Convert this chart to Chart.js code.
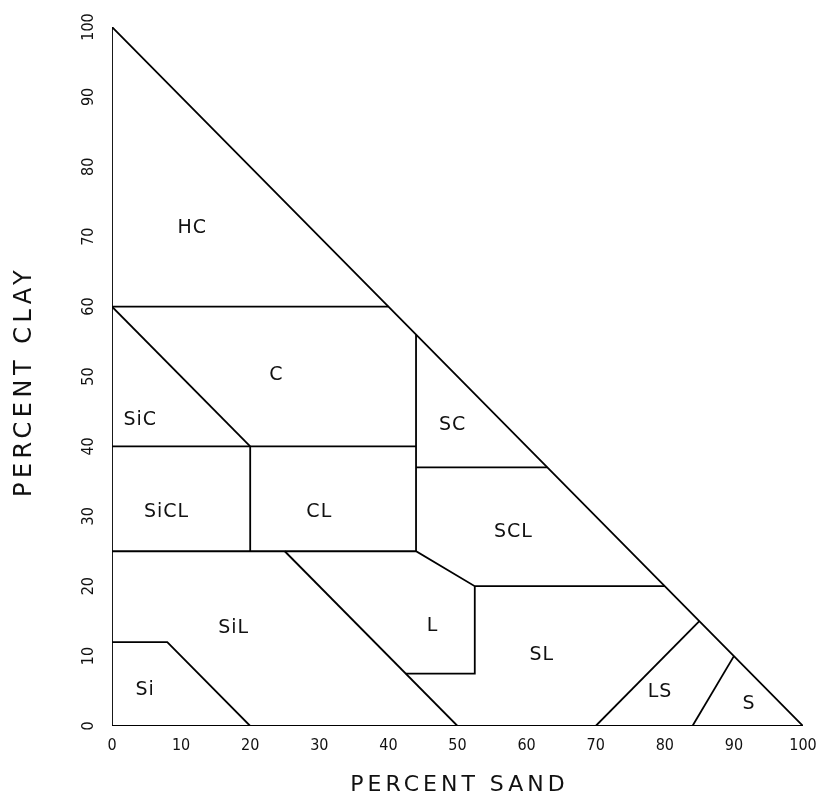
<!DOCTYPE html>
<html>
<head>
<meta charset="utf-8">
<title>Soil texture triangle</title>
<script src="https://cdn.jsdelivr.net/npm/chart.js@4.4.1/dist/chart.umd.min.js"></script>
<style>
  html, body { margin: 0; padding: 0; background: #fff; }
  #chart { display: block; }
</style>
</head>
<body>
<canvas id="chart" width="822" height="800"></canvas>
<script>
// ── Dados: limites das classes texturais (x = % areia, y = % argila) ──

const sandTicks = [0, 10, 20, 30, 40, 50, 60, 70, 80, 90, 100];
const clayTicks = [0, 10, 20, 30, 40, 50, 60, 70, 80, 90, 100];

const outlineSand = [0, 0, 100, 0];
const outlineClay = [0, 100, 0, 0];

const hcSand = [0, 40];          const hcClay = [60, 60];
const sicSand = [0, 20];         const sicClay = [60, 40];
const line40Sand = [0, 44];      const line40Clay = [40, 40];
const clVertSand = [20, 20];     const clVertClay = [40, 25];
const scVertSand = [44, 44];     const scVertClay = [56, 25];
const scSand = [44, 63];         const scClay = [37, 37];
const line25Sand = [0, 44, 52.5, 80];
const line25Clay = [25, 25, 20, 20];
const silSand = [25, 50];        const silClay = [25, 0];
const loamSand = [42.5, 52.5, 52.5];
const loamClay = [7.5, 7.5, 20];
const siSand = [0, 8, 20];       const siClay = [12, 12, 0];
const lsSand = [70, 85];         const lsClay = [0, 15];
const sSand = [84, 90];          const sClay = [0, 10];

// rótulos das classes (posição em % areia / % argila)
const classNames = ['HC', 'C', 'SiC', 'SiCL', 'CL', 'SC', 'SCL', 'L', 'SL', 'SiL', 'Si', 'LS', 'S'];
const classSand  = [11.6, 23.8, 4.1, 7.9, 30.0, 49.3, 58.1, 46.4, 62.2, 17.6, 4.8, 79.3, 92.2];
const classClay  = [71.2, 50.2, 43.8, 30.6, 30.6, 43.0, 27.8, 14.3, 10.1, 14.0, 5.1, 4.9, 3.2];

const xTitle = 'PERCENT SAND';
const yTitle = 'PERCENT CLAY';

// ── Montagem ─────────────────────────────────────────────────

function pts(xs, ys) {
    return xs.map((x, i) => ({ x, y: ys[i] }));
}

const segments = [
    [outlineSand, outlineClay],
    [hcSand, hcClay], [sicSand, sicClay], [line40Sand, line40Clay],
    [clVertSand, clVertClay], [scVertSand, scVertClay], [scSand, scClay],
    [line25Sand, line25Clay], [silSand, silClay], [loamSand, loamClay],
    [siSand, siClay], [lsSand, lsClay], [sSand, sClay],
];

const datasets = segments.map(([xs, ys]) => ({
    data: pts(xs, ys),
    showLine: true,
    borderColor: '#000',
    borderWidth: 1.8,
    pointRadius: 0,
    fill: false,
    tension: 0,
}));

const FONT = "'DejaVu Sans', 'Liberation Sans', sans-serif";
const TICK_FONT = "'DejaVu Sans Condensed', 'DejaVu Sans', sans-serif";

// rótulos de classe, ticks de argila girados e títulos dos eixos
const textPlugin = {
    id: 'triangleText',
    afterDraw(chart) {
        const { ctx, scales: { x, y } } = chart;
        ctx.save();
        ctx.fillStyle = '#111';
        ctx.textAlign = 'center';
        ctx.textBaseline = 'middle';

        ctx.font = `19px ${FONT}`;
        ctx.letterSpacing = '1px';
        classNames.forEach((name, i) => {
            ctx.fillText(name, x.getPixelForValue(classSand[i]), y.getPixelForValue(classClay[i]));
        });

        // ticks do eixo y, lidos de baixo para cima
        ctx.font = `16px ${TICK_FONT}`;
        ctx.letterSpacing = '0px';
        clayTicks.forEach(v => {
            ctx.save();
            ctx.translate(89, y.getPixelForValue(v));
            ctx.rotate(-Math.PI / 2);
            ctx.fillText(String(v), 0, 0);
            ctx.restore();
        });

        ctx.font = `22px ${FONT}`;
        ctx.letterSpacing = '4px';
        ctx.fillText(xTitle, (x.left + x.right) / 2 + 2, 785);

        ctx.font = `24px ${FONT}`;
        ctx.letterSpacing = '4.5px';
        ctx.save();
        ctx.translate(25, (y.top + y.bottom) / 2 + 5);
        ctx.rotate(-Math.PI / 2);
        ctx.fillText(yTitle, 0, 0);
        ctx.restore();

        ctx.restore();
    }
};

new Chart(document.getElementById('chart'), {
    type: 'scatter',
    data: { datasets },
    options: {
        responsive: false,
        animation: false,
        layout: { padding: { left: 0, right: 19, top: 27, bottom: 0 } },
        plugins: {
            legend: { display: false },
            tooltip: { enabled: false },
        },
        scales: {
            x: {
                type: 'linear', min: 0, max: 100,
                grid: { display: false, drawTicks: false },
                border: { display: false },
                afterBuildTicks: s => { s.ticks = sandTicks.map(v => ({ value: v })); },
                ticks: { color: '#111', font: { size: 16, family: TICK_FONT }, padding: 10, maxRotation: 0, autoSkip: false },
                afterFit: s => { s.height = 74; s.paddingLeft = 0; s.paddingRight = 0; },
            },
            y: {
                type: 'linear', min: 0, max: 100,
                grid: { display: false, drawTicks: false },
                border: { display: false },
                ticks: { display: false },
                afterFit: s => { s.width = 112; },
            },
        },
    },
    plugins: [textPlugin],
});
</script>
</body>
</html>
